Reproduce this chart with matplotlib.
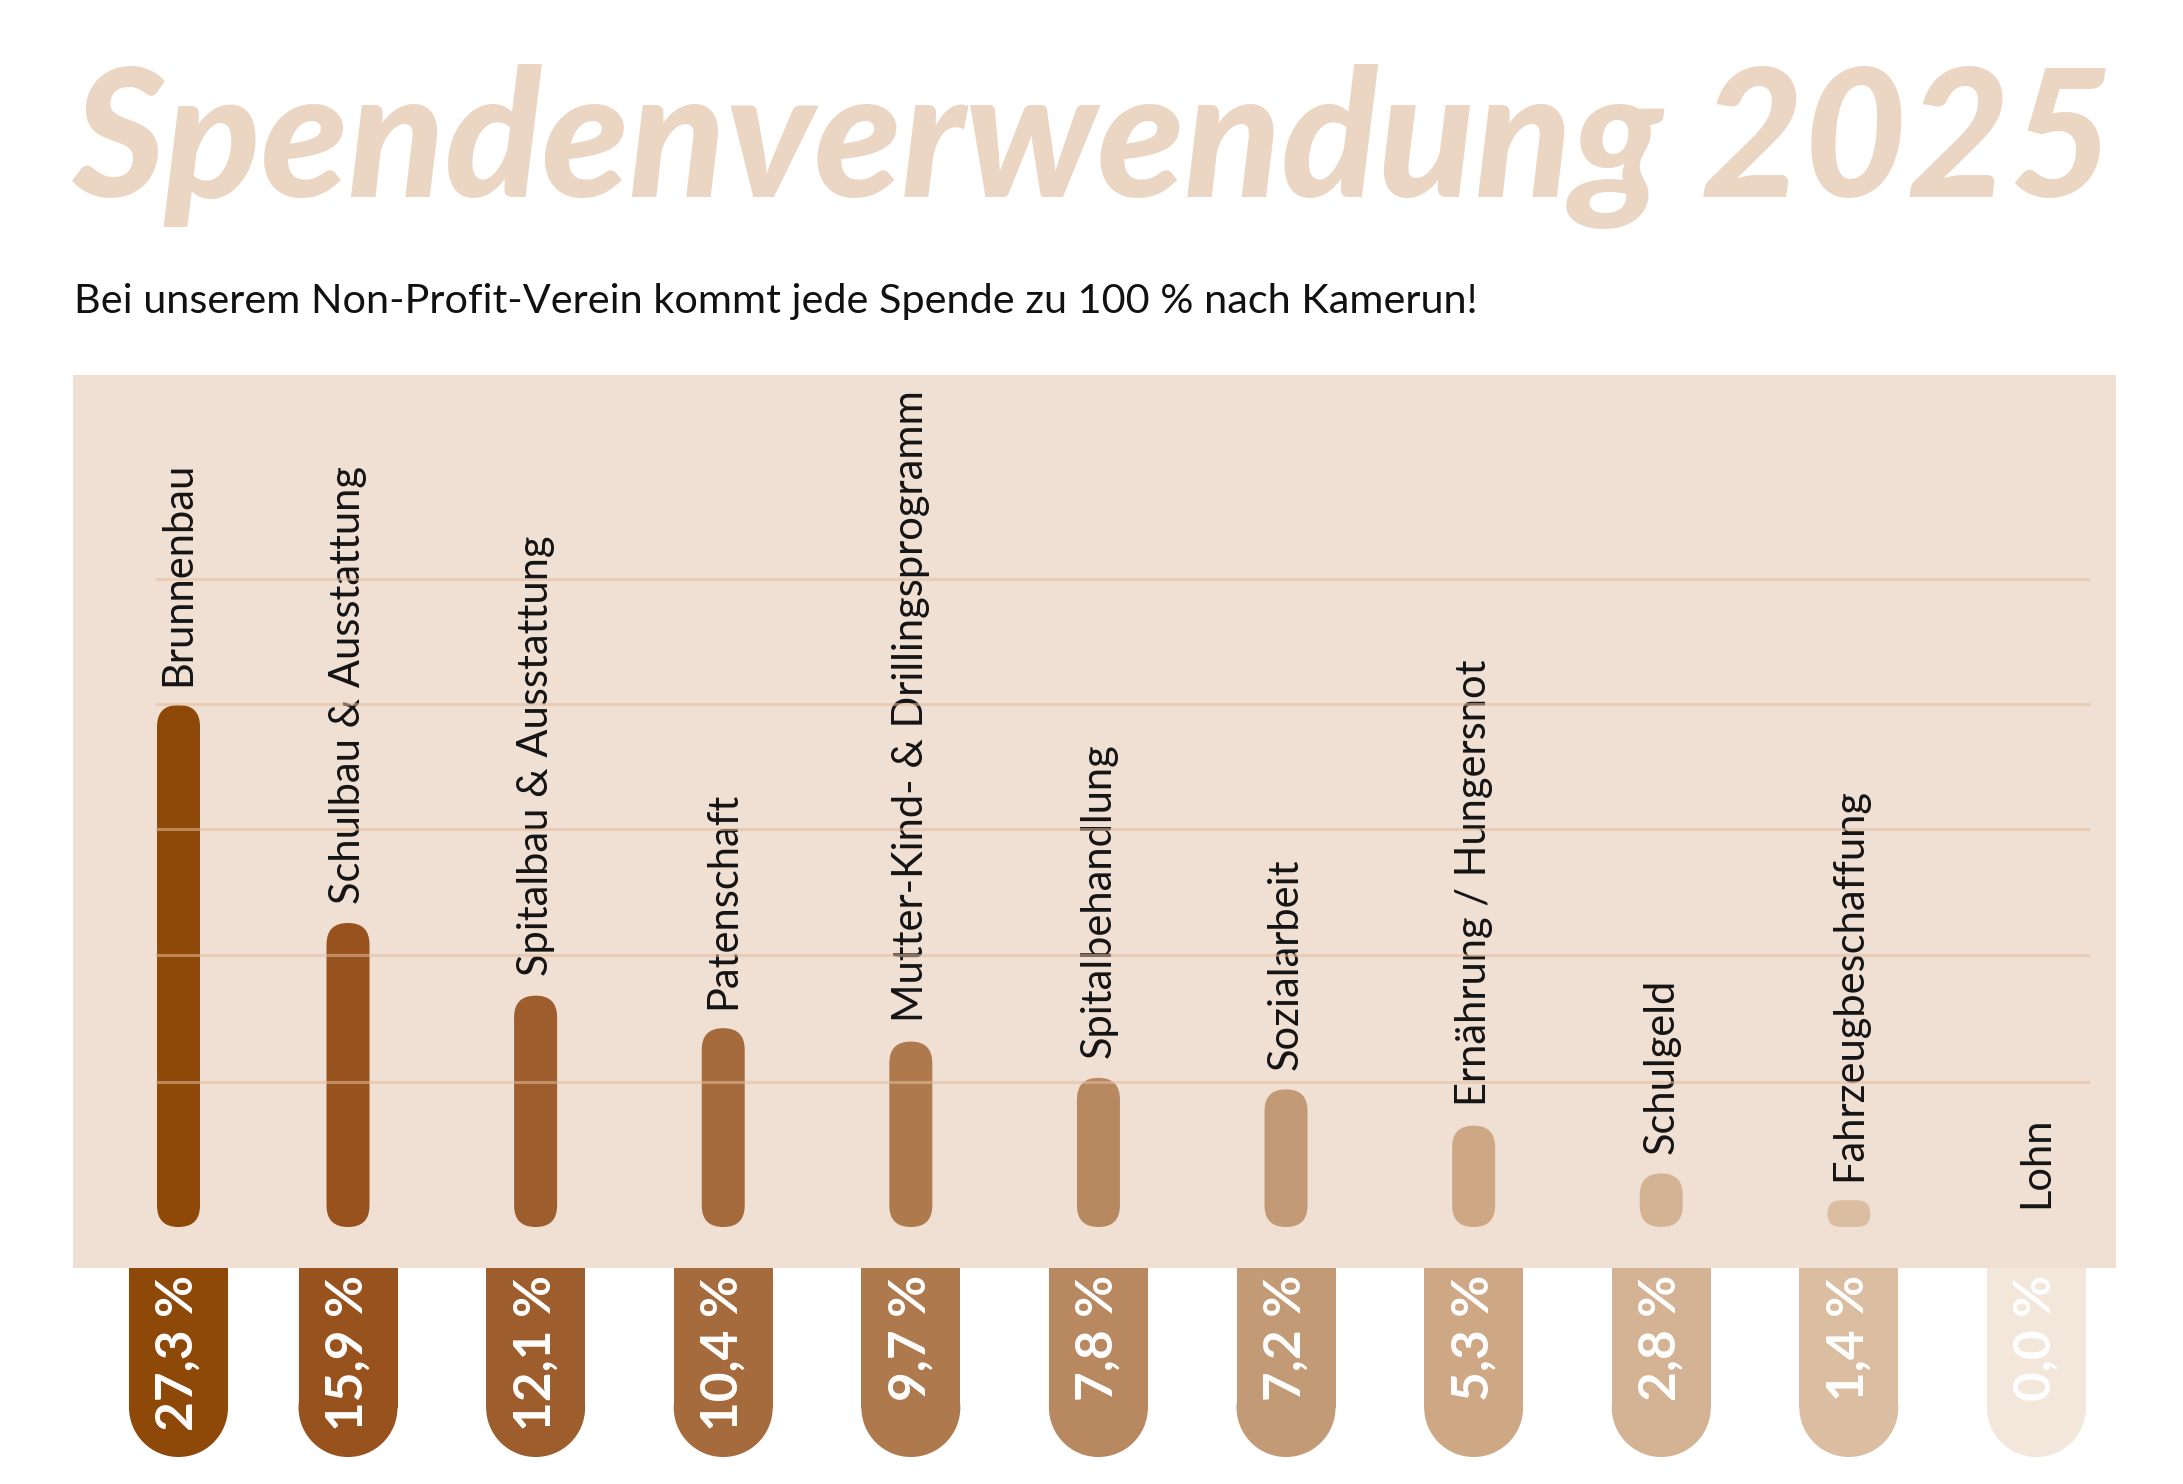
import matplotlib
matplotlib.use('Agg')
import matplotlib.pyplot as plt
from matplotlib.patches import FancyBboxPatch, Rectangle, Ellipse
import numpy as np

# --- data -------------------------------------------------------------
categories = ['Brunnenbau', 'Schulbau & Ausstattung', 'Spitalbau & Ausstattung',
              'Patenschaft', 'Mutter-Kind- & Drillingsprogramm', 'Spitalbehandlung',
              'Sozialarbeit', 'Ernährung / Hungersnot', 'Schulgeld',
              'Fahrzeugbeschaffung', 'Lohn']
shares = [27.3, 15.9, 12.1, 10.4, 9.7, 7.8, 7.2, 5.3, 2.8, 1.4, 0.0]
share_labels = ['27,3 %', '15,9 %', '12,1 %', '10,4 %', '9,7 %', '7,8 %',
                '7,2 %', '5,3 %', '2,8 %', '1,4 %', '0,0 %']
colors = ['#8E4807', '#97521E', '#9D5D2C', '#A66B3C', '#AE7A4D', '#B88861',
          '#C29A76', '#CEA885', '#D4B294', '#DBBDA2', '#F3E6DB']
grid_levels = [7.6, 14.2, 20.8, 27.35, 33.9]

title = 'Spendenverwendung 2025'
subtitle = 'Bei unserem Non-Profit-Verein kommt jede Spende zu 100 % nach Kamerun!'

# --- figure -----------------------------------------------------------
W, H, DPI = 2183, 1484, 100
fig = plt.figure(figsize=(W / DPI, H / DPI), dpi=DPI)
fig.patch.set_facecolor('white')

panel_l, panel_r, panel_t, panel_b = 73, 2116, 375, 1268
ax = fig.add_axes([panel_l / W, 1 - panel_b / H,
                   (panel_r - panel_l) / W, (panel_b - panel_t) / H])
ax.set_facecolor('#F0E0D4')
for s in ax.spines.values():
    s.set_visible(False)
ax.set_xticks([])
ax.set_yticks([])

xmin, xmax = -0.4659, 10.424
ymin, ymax = -2.144, 44.56
ax.set_xlim(xmin, xmax)
ax.set_ylim(ymin, ymax)

# pixels per data unit
px_x = (panel_r - panel_l) / (xmax - xmin)
px_y = (panel_b - panel_t) / (ymax - ymin)
aspect = px_x / px_y

n = len(categories)
xpos = np.arange(n, dtype=float)
xpos[0] += 0.0965

bar_w = 43 / px_x
tab_w = 99 / px_x
tab_bottom = -12.03

for x, v, c, cat, lab in zip(xpos, shares, colors, categories, share_labels):
    # bar (pill)
    if v > 0:
        r = min(bar_w / 2, v / aspect / 2)
        bar = FancyBboxPatch((x - bar_w / 2, 0), bar_w, v,
                             boxstyle=f'round,pad=0,rounding_size={r}',
                             mutation_aspect=aspect, facecolor=c,
                             edgecolor='none', zorder=3)
        ax.add_patch(bar)
    # category label
    ax.annotate(cat, (x, v), xytext=(0, 14), textcoords='offset points',
                rotation=90, ha='center', va='bottom', fontsize=30,
                family='Lato', color='#141414', zorder=4)
    # tab below the panel
    ry = tab_w / 2 * aspect
    ax.add_patch(Rectangle((x - tab_w / 2, tab_bottom + ry - 0.05), tab_w,
                           ymin - (tab_bottom + ry - 0.05), facecolor=c,
                           edgecolor='none', clip_on=False, zorder=2))
    ax.add_patch(Ellipse((x, tab_bottom + ry), tab_w, 2 * ry, facecolor=c,
                         edgecolor='none', clip_on=False, zorder=2))
    ax.annotate(lab, (x, ymin), xytext=(0, -5), textcoords='offset points',
                rotation=90, ha='center', va='top', fontsize=37,
                family='Lato', weight='bold', color='white',
                annotation_clip=False, zorder=5)

# faint guide lines over everything
ax.hlines(grid_levels, xpos[0] - bar_w / 2 - 0.01, xpos[-1] + tab_w / 2 + 0.02,
          colors='#E2BC9E', linewidth=2.2, alpha=0.55, zorder=6)

# --- title & subtitle -------------------------------------------------
renderer = fig.canvas.get_renderer()

t = fig.text(73 / W, 1 - 197 / H, title, fontsize=120, family='Lato',
             weight='black', style='italic', color='#EBD6C4',
             ha='left', va='baseline')
bb = t.get_window_extent(renderer)
t.set_fontsize(120 * (2114 - 73) / bb.width)

st = fig.text(74 / W, 1 - 313 / H, subtitle, fontsize=30,
              family='Lato', color='#111111',
              ha='left', va='baseline')
bb = st.get_window_extent(renderer)
st.set_fontsize(30 * (1474 - 74) / bb.width)

fig.savefig('out.png', dpi=DPI)
